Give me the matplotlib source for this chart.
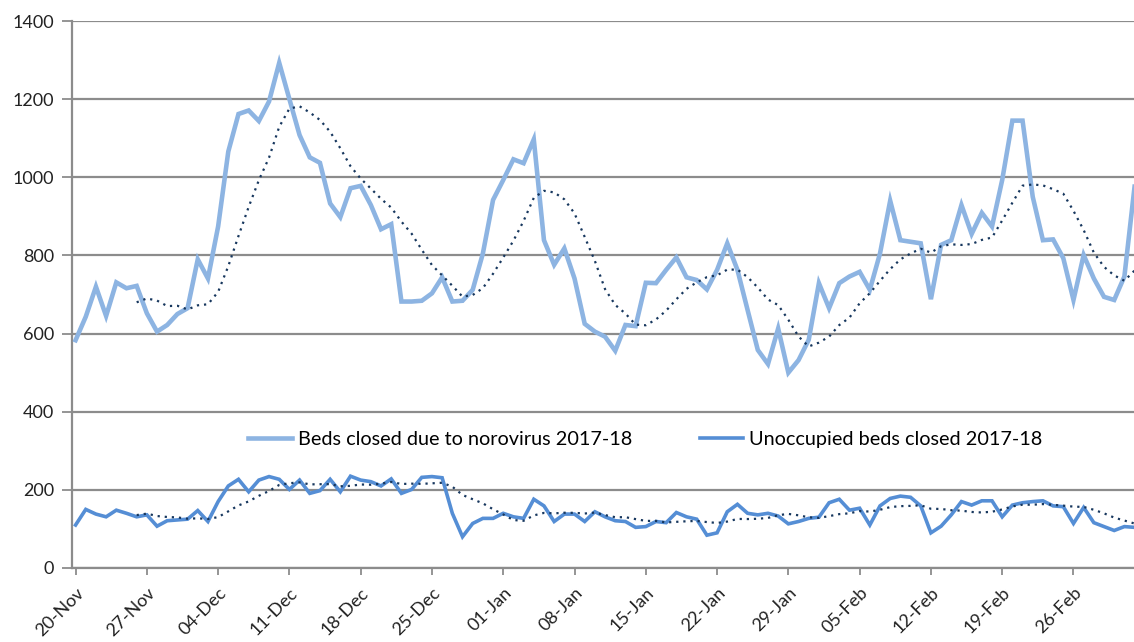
import matplotlib
matplotlib.use("Agg")
import matplotlib.pyplot as plt
import pandas as pd

# daily values, 20-Nov-2017 onwards
start_date = "2017-11-20"
norovirus_beds = [
    583, 643, 720, 645, 731, 716, 722, 652, 605, 622,
    650, 665, 790, 741, 874, 1066, 1162, 1171, 1144, 1194,
    1293, 1200, 1108, 1051, 1037, 933, 898, 972, 978, 929,
    867, 880, 682, 682, 684, 703, 744, 682, 684, 712,
    805, 942, 993, 1046, 1036, 1097, 839, 776, 818, 741,
    625, 605, 592, 556, 622, 619, 730, 729, 763, 795,
    744, 737, 713, 763, 831, 763, 660, 558, 522, 613,
    500, 532, 584, 729, 665, 729, 746, 758, 712, 805,
    940, 839, 835, 831, 688, 827, 839, 929, 855, 909,
    874, 993, 1145, 1145, 950, 839, 841, 793, 686, 801,
    741, 694, 686, 746, 976,
]
unoccupied_beds = [
    110, 150, 138, 131, 148, 140, 131, 136, 107, 121,
    123, 125, 147, 119, 170, 210, 227, 195, 225, 234,
    227, 201, 225, 191, 198, 227, 195, 235, 225, 221,
    210, 228, 191, 201, 232, 234, 231, 140, 80, 114,
    127, 127, 140, 131, 127, 176, 159, 119, 138, 138,
    119, 144, 131, 121, 119, 104, 106, 119, 116, 142,
    131, 125, 84, 90, 144, 163, 140, 136, 140, 133,
    113, 119, 127, 130, 167, 176, 148, 153, 110, 159,
    178, 184, 181, 159, 90, 107, 136, 170, 161, 172,
    172, 131, 161, 167, 170, 172, 159, 157, 114, 155,
    116, 106, 96, 106, 104,
]
series_labels = ["Beds closed due to norovirus 2017-18", "Unoccupied beds closed 2017-18"]
ma_period = 7

dates = pd.date_range(start_date, periods=len(norovirus_beds), freq="D")
df = pd.DataFrame({"noro": norovirus_beds, "unocc": unoccupied_beds}, index=dates)
# Excel-style moving average trendline
ma = df.rolling(ma_period).mean()
day = range(len(df))

plt.rcParams['font.family'] = ['Lato', 'DejaVu Sans']

fig = plt.figure(figsize=(11.34, 6.42), dpi=100)
ax = fig.add_axes([72 / 1134, 74 / 642, 1 - 72 / 1134 + 0.0005, 547 / 642])

light = "#8db4e2"
dark = "#558ed5"
navy = "#17375e"

ax.plot(day, df["noro"], color=light, lw=3.3, solid_joinstyle="miter", label=series_labels[0], zorder=3)
ax.plot(day, df["unocc"], color=dark, lw=2.6, solid_joinstyle="miter", label=series_labels[1], zorder=3)
ax.plot(day, ma["noro"], color=navy, lw=1.6, ls=(0, (1, 2.2)), zorder=4)
ax.plot(day, ma["unocc"], color=navy, lw=1.6, ls=(0, (1, 2.2)), zorder=4)

ax.set_ylim(0, 1400)
ax.set_yticks(range(0, 1401, 200))
ax.set_xlim(-0.35, len(df) - 1)
xt = list(range(0, len(df), 7))
ax.set_xticks(xt)
ax.set_xticklabels([dates[i].strftime("%d-%b") for i in xt], rotation=45, ha="right",
                   rotation_mode="anchor")

ax.grid(axis="y", color="#8c8c8c", lw=1.6)
ax.set_axisbelow(True)
for s in ["top", "right"]:
    ax.spines[s].set_visible(False)
for s in ["left", "bottom"]:
    ax.spines[s].set_color("#8c8c8c")
    ax.spines[s].set_linewidth(1.6)
ax.tick_params(axis="both", colors="#8c8c8c", width=1.3, labelcolor="#222222", labelsize=13)
ax.tick_params(axis="y", length=7, pad=6)
ax.tick_params(axis="x", length=5, pad=7)

ax.legend(loc="center", bbox_to_anchor=(0.5395, 0.235), ncol=2, frameon=False, fontsize=14.3,
          handlelength=2.2, columnspacing=3.4, handletextpad=0.3)

fig.savefig("out.png", dpi=100)
